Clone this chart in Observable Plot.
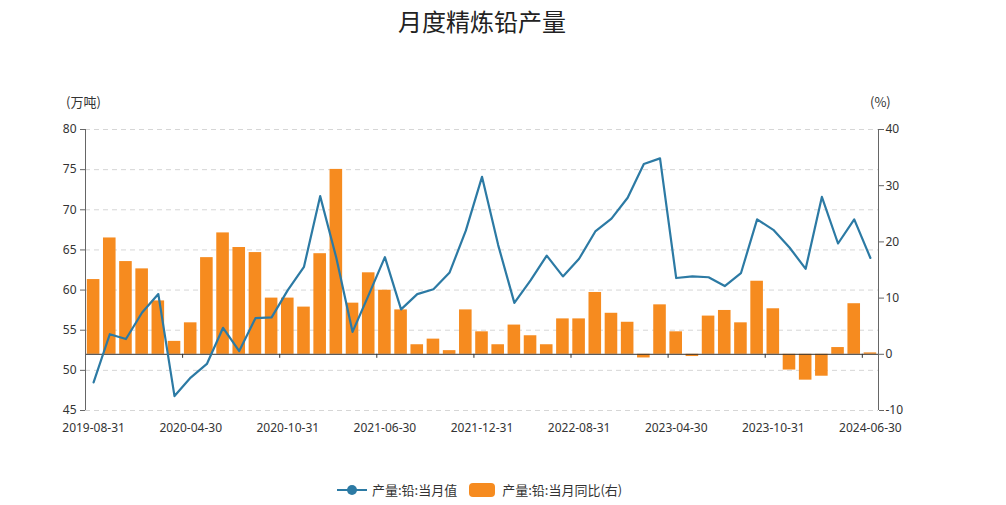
<!DOCTYPE html>
<html><head><meta charset="utf-8">
<script src="https://cdn.jsdelivr.net/npm/d3@7"></script>
<script src="https://cdn.jsdelivr.net/npm/@observablehq/plot@0.6"></script>
<style>
body{margin:0;background:#fff;font-family:"Noto Sans CJK SC","Noto Sans",sans-serif;}
#wrap{position:relative;width:1006px;height:505px;overflow:hidden;}
#title{position:absolute;left:0;top:3px;width:964px;text-align:center;font-size:24px;color:#222;}
.unit{position:absolute;font-size:13px;color:#333;}
#chart{position:absolute;left:0;top:45px;}
#legend{position:absolute;top:480px;left:337px;display:flex;align-items:center;font-size:13px;color:#333;}
</style></head><body>
<div id="wrap">
  <div id="title">月度精炼铅产量</div>
  <div class="unit" style="left:66px;top:92px">(万吨)</div>
  <div class="unit" style="left:870px;top:92px">(%)</div>
  <div id="chart"></div>
  <div id="legend"></div>
</div>
<script>
const dates = [
 "2019-08-31","2019-09-30","2019-10-31","2019-11-30","2019-12-31",
 "2020-03-31","2020-04-30","2020-05-31","2020-06-30","2020-07-31","2020-08-31","2020-09-30","2020-10-31","2020-11-30","2020-12-31",
 "2021-03-31","2021-04-30","2021-05-31","2021-06-30","2021-07-31","2021-08-31","2021-09-30","2021-10-31","2021-11-30","2021-12-31",
 "2022-03-31","2022-04-30","2022-05-31","2022-06-30","2022-07-31","2022-08-31","2022-09-30","2022-10-31","2022-11-30","2022-12-31",
 "2023-03-31","2023-04-30","2023-05-31","2023-06-30","2023-07-31","2023-08-31","2023-09-30","2023-10-31","2023-11-30","2023-12-31",
 "2024-03-31","2024-04-30","2024-05-31","2024-06-30"
];
const production = [
 48.5,54.5,53.9,57.2,59.5,
 46.8,49.1,50.8,55.3,52.4,56.5,56.6,60.0,62.9,71.7,
 64.0,54.8,59.4,64.1,57.6,59.5,60.1,62.2,67.4,74.1,
 65.6,58.4,61.2,64.3,61.7,63.9,67.3,68.9,71.5,75.7,
 76.4,61.5,61.7,61.6,60.5,62.1,68.8,67.5,65.3,62.65,
 71.6,65.8,68.8,64.0
];
const yoy = [
 13.3,20.7,16.5,15.2,9.5,
 2.3,5.6,17.2,21.6,19.0,18.1,10.0,10.0,8.4,17.9,
 32.9,9.1,14.5,11.4,7.9,1.7,2.7,0.65,7.9,4.0,
 1.7,5.2,3.3,1.7,6.3,6.3,11.0,7.3,5.7,-0.65,
 8.8,4.0,-0.4,6.8,7.8,5.6,13.0,8.1,-2.8,-4.6,
 -3.9,1.2,9.0,0.25
];
const leftTicks = [45,50,55,60,65,70,75,80];
const rightTicks = [-10,0,10,20,30,40];
const seriesNames = ["产量:铅:当月值","产量:铅:当月同比(右)"];

const lineColor = "#2c7aa4";
const barColor = "#f68b1f";

const labelDates = dates.filter((d,i)=>i%6===0);
const W=1006, H=420, mL=85, mR=128, mT=84, mB=55;
const bw = (W-mL-mR)/dates.length;
// right axis (-10..40 %) mapped onto left domain (45..80)
const toLeft = r => 45 + (r+10)*(35/50);
const fromLeft = v => (v-45)*(50/35)-10;
const base = toLeft(0);
const data = dates.map((d,i)=>({date:d, prod:production[i], yoy:yoy[i]}));

const chart = Plot.plot({
  width:W, height:H, marginLeft:mL, marginRight:mR, marginTop:mT, marginBottom:mB,
  style:{fontFamily:"'Noto Sans','Noto Sans CJK SC',sans-serif", fontSize:"12px", color:"#333", background:"transparent"},
  x:{type:"band", domain:dates, padding:0, round:false},
  y:{domain:[45,80]},
  marks:[
    Plot.gridY(leftTicks, {stroke:"#d6d6d6", strokeOpacity:1, strokeDasharray:"5,4"}),
    Plot.barY(data, {x:"date", y1:base, y2:d=>toLeft(d.yoy), fill:barColor, insetLeft:1.8, insetRight:1.8}),
    Plot.ruleY([base], {stroke:"#333", strokeWidth:1}),
    Plot.ruleX([dates[0]], {dx:-bw/2, stroke:"#666"}),
    Plot.ruleX([dates[dates.length-1]], {dx:bw/2, stroke:"#666"}),
    Plot.ruleX(labelDates.slice(1), {dx:-bw/2, y1:base, y2:base-0.5, stroke:"#333"}),
    Plot.line(data, {x:"date", y:"prod", stroke:lineColor, strokeWidth:2.2}),
    Plot.axisY({anchor:"left", ticks:leftTicks, tickSize:5, tickPadding:4, label:null, stroke:"#666", fill:"#333"}),
    Plot.axisY({anchor:"right", ticks:rightTicks.map(toLeft), tickFormat:v=>Math.round(fromLeft(v)), tickSize:5, tickPadding:2, label:null, stroke:"#666", fill:"#333"}),
    Plot.axisX({ticks:labelDates, tickSize:0, tickPadding:13, label:null, fill:"#333"})
  ]
});
document.getElementById("chart").appendChild(chart);

const lg = document.getElementById("legend");
lg.innerHTML =
  `<svg width="30" height="14"><line x1="0" y1="7" x2="30" y2="7" stroke="${lineColor}" stroke-width="2"/><circle cx="15" cy="7" r="5" fill="${lineColor}"/></svg>`+
  `<span style="margin-left:5px">${seriesNames[0]}</span>`+
  `<svg width="26" height="14" style="margin-left:12px"><rect x="0" y="0" width="26" height="14" rx="4" fill="${barColor}"/></svg>`+
  `<span style="margin-left:7px">${seriesNames[1]}</span>`;
</script>
</body></html>
